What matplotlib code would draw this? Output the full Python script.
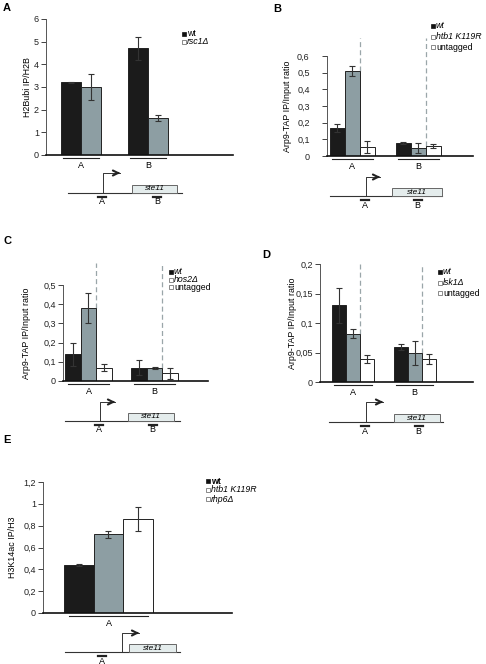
import numpy as np
import matplotlib
matplotlib.use('Agg')
import matplotlib.pyplot as plt
from matplotlib.patches import Rectangle
from matplotlib.transforms import blended_transform_factory

plt.rcParams['font.family'] = ['Liberation Sans', 'DejaVu Sans']

W, H = 486, 664

# ---------------- data
a_groups = ['A', 'B']
a_series = ['wt', 'rsc1Δ']
a_vals = [[3.2, 4.7], [3.0, 1.62]]
a_errs = [[0.03, 0.5], [0.58, 0.13]]

b_groups = ['A', 'B']
b_series = ['wt', 'htb1 K119R', 'untagged']
b_vals = [[0.17, 0.08], [0.51, 0.05], [0.055, 0.06]]
b_errs = [[0.025, 0.005], [0.03, 0.03], [0.035, 0.013]]

c_groups = ['A', 'B']
c_series = ['wt', 'hos2Δ', 'untagged']
c_vals = [[0.14, 0.07], [0.38, 0.07], [0.07, 0.04]]
c_errs = [[0.06, 0.04], [0.08, 0.005], [0.02, 0.03]]

d_groups = ['A', 'B']
d_series = ['wt', 'lsk1Δ', 'untagged']
d_vals = [[0.13, 0.06], [0.082, 0.049], [0.039, 0.039]]
d_errs = [[0.03, 0.005], [0.008, 0.02], [0.006, 0.009]]

e_groups = ['A']
e_series = ['wt', 'htb1 K119R', 'rhp6Δ']
e_vals = [[0.44], [0.72], [0.86]]
e_errs = [[0.01], [0.035], [0.11]]

colors = ['#1b1b1b', '#8d9ea3', '#ffffff']

fig = plt.figure(figsize=(W/100, H/100), dpi=100)


def fmt(v):
    return ('%g' % round(v, 3)).replace('.', ',')


def bar_panel(box, xlim, w, ymax, ystep, groups, series, vals, errs,
              ylabel, label_dx, dash_top=None, pad=1.5):
    left, top, right, bottom = box
    ax = fig.add_axes([left/W, 1-bottom/H, (right-left)/W, (bottom-top)/H])
    n = len(series)
    x = np.arange(len(groups))
    for i in range(n):
        off = (i - (n-1)/2)*w
        ax.bar(x+off, vals[i], w, yerr=errs[i], color=colors[i],
               edgecolor='#222222', lw=0.7, zorder=2,
               error_kw=dict(ecolor='#333333', elinewidth=0.8,
                             capsize=2.5, capthick=0.8, zorder=3))
    ax.set_xlim(*xlim)
    ax.set_ylim(0, ymax)
    ticks = np.arange(0, ymax + ystep/2, ystep)
    ax.set_yticks(ticks)
    ax.set_yticklabels([fmt(t) for t in ticks])
    ax.set_xticks([])
    ax.tick_params(axis='y', length=3.5, width=0.6, labelsize=6.5, pad=pad,
                   colors='#222222')
    for s in ['top', 'right']:
        ax.spines[s].set_visible(False)
    ax.spines['left'].set_color('#555555')
    ax.spines['left'].set_linewidth(0.7)
    ax.spines['bottom'].set_color('#111111')
    ax.spines['bottom'].set_linewidth(1.2)
    ax.patch.set_alpha(0)
    ax.set_ylabel(ylabel, fontsize=6.4, labelpad=0)
    ax.yaxis.set_label_coords(-label_dx/(right-left), 0.5)

    hpx = bottom - top
    tr = blended_transform_factory(ax.transData, ax.transAxes)
    span = n/2*w*0.9
    for g, lab in enumerate(groups):
        ax.plot([g-span, g+span], [-3/hpx, -3/hpx], color='#222222', lw=0.8,
                transform=tr, clip_on=False)
        ax.text(g, -6/hpx, lab, transform=tr, ha='center', va='top',
                fontsize=6.5)
    if dash_top is not None:
        for g in range(len(groups)):
            y0 = max(vals[1][g], vals[2][g])
            ax.plot([g + w/2, g + w/2], [y0, dash_top*ymax], color='#9aa6a9',
                    lw=0.9, ls=(0, (4, 2.5)), clip_on=False, zorder=1)
    return ax


bar_panel((46, 19, 233, 155), (-0.522, 2.269), 0.299, 6, 1,
          a_groups, a_series, a_vals, a_errs, 'H2Bubi IP/H2B', 14.5)
bar_panel((327, 56, 473, 156), (-0.386, 1.826), 0.227, 0.6, 0.1,
          b_groups, b_series, b_vals, b_errs, 'Arp9-TAP IP/Input ratio', 35.5,
          dash_top=1.18, pad=9)
bar_panel((63, 285, 208, 381), (-0.386, 1.81), 0.235, 0.5, 0.1,
          c_groups, c_series, c_vals, c_errs, 'Arp9-TAP IP/Input ratio', 32.5,
          dash_top=1.23)
bar_panel((320, 264, 473, 382), (-0.537, 1.95), 0.228, 0.2, 0.05,
          d_groups, d_series, d_vals, d_errs, 'Arp9-TAP IP/Input ratio', 23.5,
          dash_top=1.0, pad=1.5)
bar_panel((43, 482, 232, 613), (-0.666, 1.256), 0.3, 1.2, 0.2,
          e_groups, e_series, e_vals, e_errs, 'H3K14ac IP/H3', 26.5)

# overlay in pixel coordinates for letters, legends and gene diagrams
ov = fig.add_axes([0, 0, 1, 1])
ov.set_xlim(0, W)
ov.set_ylim(H, 0)
ov.axis('off')


def legend(x, y, dy, series, styles, weights=None):
    for i, s in enumerate(series):
        yy = y + i*dy
        if i == 0:
            ov.plot(x, yy, marker='s', ms=3.2, mfc='#111111', mec='#111111', mew=0.5)
        else:
            ov.plot(x, yy, marker='s', ms=3.2, mfc='white', mec='#777777', mew=0.6)
        ov.text(x + 3, yy, s, style=styles[i], fontsize=6.3, va='center',
                ha='left', weight=(weights[i] if weights else 'normal'))


def gene(x0, x1, y, tss, top, end, b0, b1, sites):
    ov.plot([x0, x1], [y, y], color='#333333', lw=0.8)
    ov.plot([tss, tss, end - 3], [y, top, top], color='#333333', lw=0.7)
    ov.annotate('', xy=(end, top), xytext=(end - 8, top),
                arrowprops=dict(arrowstyle='->', lw=1.5, color='#222222',
                                mutation_scale=9))
    ov.add_patch(Rectangle((b0, y - 8), b1 - b0, 8, fc='#e4ecec', ec='#666666',
                           lw=0.7, zorder=3))
    ov.text((b0 + b1)/2, y - 4, 'ste11', style='italic', fontsize=6,
            ha='center', va='center', zorder=4)
    for sx, lab in sites:
        ov.plot([sx - 4, sx + 4], [y + 4, y + 4], color='#222222', lw=1.6)
        ov.text(sx, y + 4.5, lab, fontsize=6.5, ha='center', va='top')


for lx, ly, lab in [(3, 3, 'A'), (273, 4, 'B'), (3, 236, 'C'),
                    (262, 250, 'D'), (3, 435, 'E')]:
    ov.text(lx, ly, lab, fontsize=8, weight='bold', va='top', ha='left')

legend(184, 34, 7.5, a_series, ['normal', 'italic'])
legend(433, 26, 10.5, b_series, ['italic', 'italic', 'normal'])
legend(171, 272, 7.5, c_series, ['italic', 'italic', 'normal'])
legend(440, 272, 10.5, d_series, ['italic', 'italic', 'normal'])
legend(208, 481, 9, e_series, ['normal', 'italic', 'italic'],
       ['bold', 'normal', 'normal'])

gene(68, 182, 193, 103, 173, 123, 132, 177, [(102, 'A'), (157, 'B')])
gene(330, 442, 196, 366, 177, 383, 392, 442, [(365, 'A'), (417.5, 'B')])
gene(65, 180, 421, 100, 402, 118, 128, 174, [(99, 'A'), (152.5, 'B')])
gene(329, 443, 422, 366, 402, 386, 394, 440, [(365, 'A'), (418.5, 'B')])
gene(65, 180, 652, 122, 633, 142, 129, 176, [(102, 'A')])

fig.savefig('out.png', dpi=100)
